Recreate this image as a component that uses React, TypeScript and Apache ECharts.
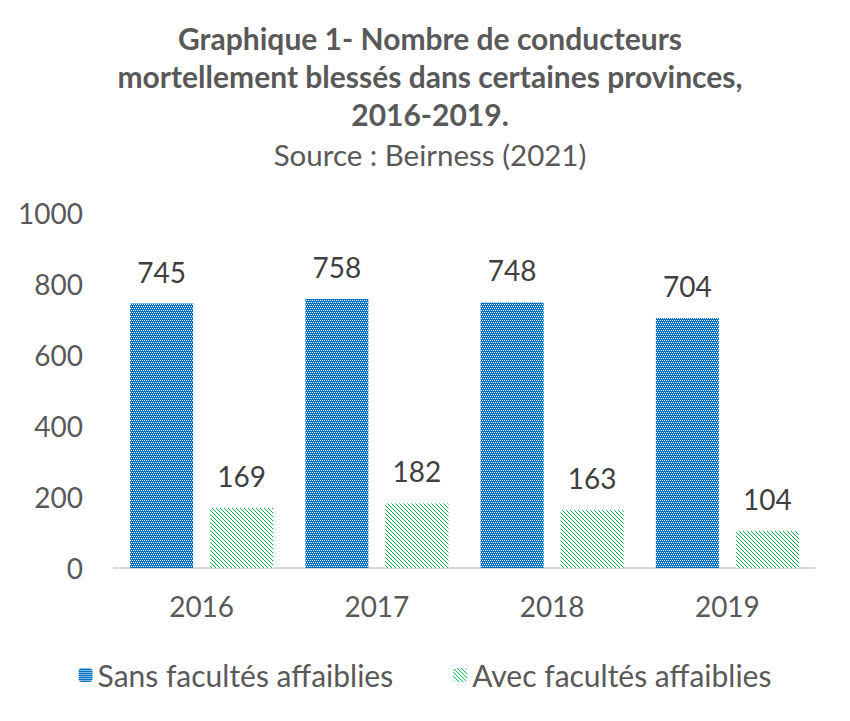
import React, { useEffect, useRef } from "react";
import * as echarts from "echarts";

const categories = ["2016", "2017", "2018", "2019"];
const sansFacultes = [745, 758, 748, 704];
const avecFacultes = [169, 182, 163, 104];
const seriesNames = ["Sans facultés affaiblies", "Avec facultés affaiblies"];
const titleText = "Graphique 1- Nombre de conducteurs\nmortellement blessés dans certaines provinces,\n2016-2019.";
const subtitleText = "Source : Beirness (2021)";

const FONT = "Lato, 'Open Sans', sans-serif";

function makeBluePattern() {
  const c = document.createElement("canvas");
  c.width = 4;
  c.height = 4;
  const ctx = c.getContext("2d")!;
  ctx.fillStyle = "#0070C0";
  ctx.fillRect(0, 0, 4, 4);
  ctx.fillStyle = "#ffffff";
  ctx.fillRect(0, 0, 1, 1);
  ctx.fillRect(2, 0, 1, 1);
  ctx.fillRect(1, 2, 1, 1);
  ctx.fillRect(3, 2, 1, 1);
  return c.toDataURL();
}

function makeGreenPattern() {
  const c = document.createElement("canvas");
  c.width = 4;
  c.height = 4;
  const ctx = c.getContext("2d")!;
  ctx.fillStyle = "#ffffff";
  ctx.fillRect(0, 0, 4, 4);
  ctx.fillStyle = "#00B050";
  for (let i = 0; i < 4; i++) ctx.fillRect(i, i, 1, 1);
  return c.toDataURL();
}

export default function App() {
  const ref = useRef<HTMLDivElement>(null);
  useEffect(() => {
    if (!ref.current) return;
    const chart = echarts.init(ref.current, undefined, { renderer: "svg" });
    const bluePattern = { image: makeBluePattern(), repeat: "repeat", imageWidth: 4, imageHeight: 4 };
    const greenPattern = { image: makeGreenPattern(), repeat: "repeat", imageWidth: 4, imageHeight: 4 };
    chart.setOption({
      animation: false,
      backgroundColor: "#ffffff",
      textStyle: { fontFamily: FONT },
      title: [
        {
          text: titleText,
          left: 425,
          top: 14,
          textAlign: "center",
          textStyle: {
            fontFamily: FONT,
            fontSize: 30,
            fontWeight: "bold",
            color: "#595959",
            lineHeight: 38,
          },
        },
        {
          text: subtitleText,
          left: 425,
          top: 130,
          textAlign: "center",
          textStyle: {
            fontFamily: FONT,
            fontSize: 29.5,
            fontWeight: "normal",
            color: "#595959",
            lineHeight: 38,
          },
        },
      ],
      legend: {
        bottom: 26,
        left: "center",
        itemWidth: 14,
        itemHeight: 14,
        itemGap: 60,
        textStyle: { fontFamily: FONT, fontSize: 30, color: "#595959" },
        data: seriesNames,
      },
      grid: { left: 114, right: 35, top: 213, bottom: 153 },
      xAxis: {
        type: "category",
        data: categories,
        axisLine: { lineStyle: { color: "#d9d9d9", width: 2 } },
        axisTick: { show: false },
        axisLabel: { fontFamily: FONT, fontSize: 28, color: "#595959", margin: 24 },
      },
      yAxis: {
        type: "value",
        min: 0,
        max: 1000,
        interval: 200,
        axisLine: { show: false },
        axisTick: { show: false },
        splitLine: { show: false },
        axisLabel: {
          fontFamily: FONT,
          fontSize: 28,
          color: "#595959",
          margin: 31,
          formatter: (v: number) => String(v),
        },
      },
      series: [
        {
          name: seriesNames[0],
          type: "bar",
          data: sansFacultes,
          barWidth: 63,
          barGap: "27%",
          itemStyle: { color: bluePattern },
          label: {
            show: true,
            position: "top",
            distance: 18,
            fontFamily: FONT,
            fontSize: 28,
            color: "#404040",
          },
        },
        {
          name: seriesNames[1],
          type: "bar",
          data: avecFacultes,
          barWidth: 63,
          itemStyle: { color: greenPattern },
          label: {
            show: true,
            position: "top",
            distance: 18,
            fontFamily: FONT,
            fontSize: 28,
            color: "#404040",
          },
        },
      ],
    });
    return () => chart.dispose();
  }, []);
  return <div ref={ref} style={{ width: 850, height: 721, margin: -8 }} />;
}
